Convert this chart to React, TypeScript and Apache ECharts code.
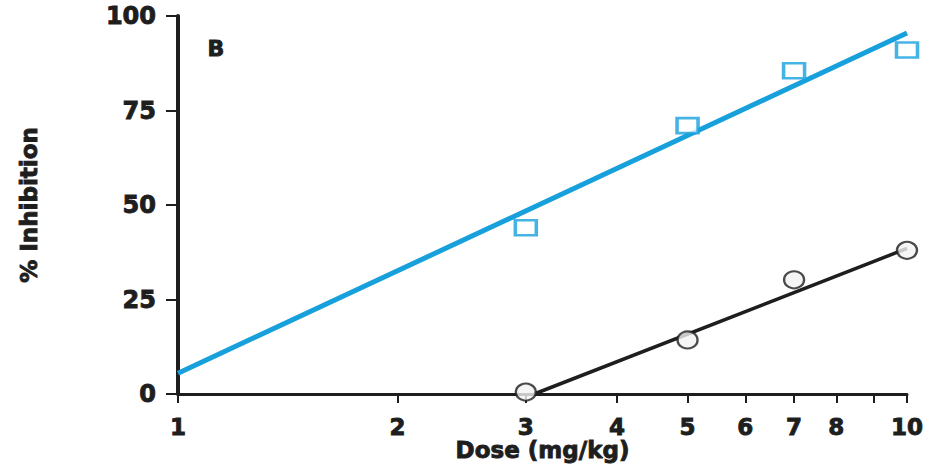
import React, { useEffect, useRef } from "react";
import * as echarts from "echarts";

const doses = [3, 5, 7, 10];
const blueValues = [44, 71, 85.5, 91];
const blackValues = [0.5, 14.3, 30.2, 38];
const blueFitX = [1, 10];
const blueFitY = [5.5, 95.5];
const blackFitX = [3.08, 10];
const blackFitY = [0, 38.5];
const xTickValues = [1, 2, 3, 4, 5, 6, 7, 8, 9, 10];
const xLabelValues = [1, 2, 3, 4, 5, 6, 7, 8, 10];

const BLUE = "#17a0dc";
const INK = "#1e1e1e";
const FONT = "DejaVu Sans";

const heavy = (size: number) => ({
  fontFamily: FONT,
  fontWeight: "bold" as const,
  fontSize: size,
  color: INK,
  textBorderColor: INK,
  textBorderWidth: 0.9,
});

export default function App() {
  const ref = useRef<HTMLDivElement>(null);
  useEffect(() => {
    if (!ref.current) return;
    const chart = echarts.init(ref.current, undefined, { renderer: "svg" });
    chart.setOption({
      animation: false,
      backgroundColor: "#ffffff",
      grid: {
        left: 178,
        right: 23,
        top: 16,
        bottom: 72,
        containLabel: false,
        outerBoundsMode: "none",
      },
      graphic: [
        {
          type: "text",
          left: 207,
          top: 37,
          style: {
            text: "B",
            font: `bold 22px "${FONT}"`,
            fill: INK,
            stroke: INK,
            lineWidth: 0.9,
          },
        },
      ],
      xAxis: {
        type: "log",
        logBase: 10,
        min: 1,
        max: 10,
        name: "Dose (mg/kg)",
        nameLocation: "middle",
        nameGap: 44,
        nameMoveOverlap: false,
        nameTextStyle: { ...heavy(23), lineHeight: 24 },
        axisLine: { show: true, lineStyle: { color: INK, width: 3 } },
        axisTick: { show: true, inside: false, length: 9, lineStyle: { color: INK, width: 2 }, customValues: xTickValues },
        axisLabel: {
          show: true,
          margin: 21,
          ...heavy(23),
          customValues: xLabelValues,
          formatter: (v: number) => String(Math.round(v)),
        },
        splitLine: { show: false },
        minorTick: { show: false },
      },
      yAxis: {
        type: "value",
        min: 0,
        max: 100,
        interval: 25,
        name: "% Inhibition",
        nameLocation: "middle",
        nameRotate: 90,
        nameGap: 138,
        nameMoveOverlap: false,
        nameTextStyle: heavy(23),
        axisLine: { show: true, lineStyle: { color: INK, width: 4 } },
        axisTick: { show: true, inside: false, length: 12, lineStyle: { color: INK, width: 2 } },
        axisLabel: { margin: 22, ...heavy(24) },
        splitLine: { show: false },
      },
      series: [
        {
          type: "line",
          data: blueFitX.map((x, i) => [x, blueFitY[i]]),
          symbol: "none",
          lineStyle: { color: BLUE, width: 5 },
          z: 2,
        },
        {
          type: "line",
          data: blackFitX.map((x, i) => [x, blackFitY[i]]),
          symbol: "none",
          lineStyle: { color: INK, width: 3.5 },
          z: 2,
        },
        {
          type: "scatter",
          data: doses.map((x, i) => [x, blueValues[i]]),
          symbol: "rect",
          symbolSize: [21, 15],
          itemStyle: { color: "#ffffff", borderColor: BLUE, borderWidth: 3 },
          z: 3,
        },
        {
          type: "scatter",
          data: doses.map((x, i) => [x, blackValues[i]]),
          symbol: "circle",
          symbolSize: [20, 17],
          itemStyle: { color: "#f2f2f2", borderColor: INK, borderWidth: 2.2 },
          z: 3,
        },
      ],
    });
    return () => chart.dispose();
  }, []);
  return (
    <div
      ref={ref}
      style={{ position: "fixed", left: 0, top: 0, width: 930, height: 466 }}
    />
  );
}
